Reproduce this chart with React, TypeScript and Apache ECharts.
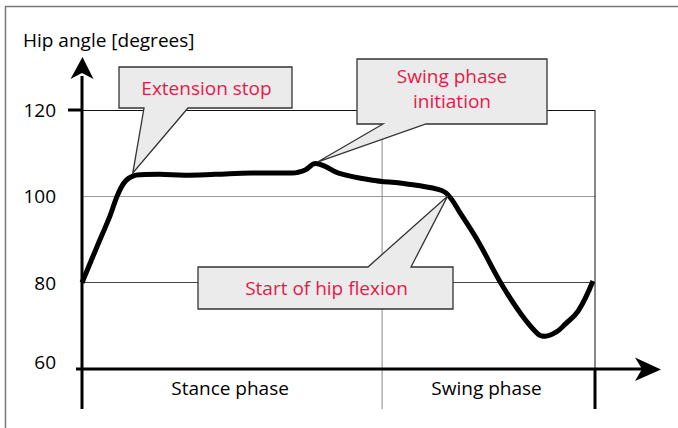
import React, { useEffect, useRef } from "react";
import * as echarts from "echarts";

// Gait cycle (% of cycle) and hip angle (degrees)
const cycleX = [0, 2.7, 5.5, 6.6, 7.6, 8.6, 9.9, 11.5, 15, 20, 26, 33, 41, 43.5, 45.5, 47.3, 50, 56.3, 63, 69.4, 71.3, 73.9, 77.2, 81.7, 85.6, 88.9, 90.3, 92.5, 94.2, 96.7, 99.6];
const hipAngle = [80, 87.7, 95.6, 99.3, 102.0, 103.7, 104.7, 105.0, 105.1, 104.9, 105.1, 105.4, 105.4, 106.1, 107.6, 107.0, 105.4, 103.8, 102.9, 101.6, 100.4, 95.8, 89.6, 79.8, 72.7, 68.1, 67.6, 68.6, 70.4, 73.4, 80.4];
const yTicks = [60, 80, 100, 120];
const phaseBounds = [0, 58.5, 100];
const phaseLabels = ["Stance phase", "Swing phase"];
const calloutTexts = ["Extension stop", "Swing phase\ninitiation", "Start of hip flexion"];
const calloutTipX = [9.9, 46.0, 71.3];
const calloutTipY = [105.4, 108.0, 100.1];

const FONT = "Open Sans";
const FS = 19;
const RED = "#e5194a";

export default function App() {
  const ref = useRef<HTMLDivElement>(null);
  useEffect(() => {
    document.body.style.margin = "0";
    const chart = echarts.init(ref.current!, null, { renderer: "svg" });
    chart.setOption({
      animation: false,
      backgroundColor: "#fff",
      title: {
        text: "Hip angle [degrees]",
        left: 18,
        top: 25,
        textStyle: { fontFamily: FONT, fontSize: FS, fontWeight: "normal", color: "#000" },
      },
      grid: { left: 82, top: 110, right: 83, bottom: 59 },
      xAxis: {
        type: "value",
        min: 0,
        max: 100,
        axisLine: { show: false },
        axisTick: { show: false },
        axisLabel: { show: false },
        splitLine: { show: false },
      },
      yAxis: {
        type: "value",
        min: yTicks[0],
        max: yTicks[yTicks.length - 1],
        interval: 20,
        axisLine: { show: false },
        axisTick: { show: false },
        axisLabel: {
          margin: 26,
          fontFamily: FONT,
          fontSize: FS,
          color: "#000",
          formatter: (v: number) => (v === 60 ? `{low|${v}}` : `${v}`),
          rich: { low: { fontFamily: FONT, fontSize: FS, color: "#000", padding: [0, 0, 14, 0] } },
        },
        splitLine: {
          show: true,
          lineStyle: { color: ["#000", "#444", "#999", "#111"], width: 1 },
        },
      },
      series: [
        {
          type: "line",
          data: cycleX.map((x, i) => [x, hipAngle[i]]),
          smooth: 0.4,
          symbol: "none",
          lineStyle: { color: "#000", width: 5 },
          z: 5,
        },
      ],
    });

    const p = (x: number, y: number) => chart.convertToPixel({ gridIndex: 0 }, [x, y]) as number[];
    const [x0, y60] = p(0, 60);
    const [xEnd, y120] = p(100, 120);
    const [xStance] = p(phaseBounds[1], 60);
    const bottom = y60 + 40;

    const graphics: any[] = [];
    graphics.push({
      type: "rect",
      shape: { x: 5.5, y: 6.5, width: 720, height: 480 },
      style: { fill: "none", stroke: "#777", lineWidth: 1.5 },
      z: 1,
    });
    graphics.push({
      type: "line",
      shape: { x1: xStance, y1: y120, x2: xStance, y2: bottom },
      style: { stroke: "#888", lineWidth: 1 },
      z: 2,
    });
    graphics.push({
      type: "line",
      shape: { x1: xEnd, y1: y120, x2: xEnd, y2: y60 },
      style: { stroke: "#111", lineWidth: 1 },
      z: 2,
    });
    graphics.push({
      type: "line",
      shape: { x1: xEnd, y1: y60, x2: xEnd, y2: bottom },
      style: { stroke: "#000", lineWidth: 3 },
      z: 10,
    });
    graphics.push({
      type: "line",
      shape: { x1: x0, y1: bottom, x2: x0, y2: 76 },
      style: { stroke: "#000", lineWidth: 3 },
      z: 10,
    });
    graphics.push({
      type: "polygon",
      shape: { points: [[x0 + 0.5, 57], [x0 + 11.5, 79], [x0, 73], [x0 - 11.5, 79]] },
      style: { fill: "#000" },
      z: 10,
    });
    graphics.push({
      type: "line",
      shape: { x1: x0 - 14, y1: y120, x2: x0, y2: y120 },
      style: { stroke: "#000", lineWidth: 3 },
      z: 10,
    });
    graphics.push({
      type: "line",
      shape: { x1: x0 - 6, y1: y60, x2: 645, y2: y60 },
      style: { stroke: "#000", lineWidth: 3 },
      z: 10,
    });
    graphics.push({
      type: "polygon",
      shape: { points: [[661, y60 + 0.5], [635, y60 - 11.5], [642, y60], [635, y60 + 12]] },
      style: { fill: "#000" },
      z: 10,
    });
    phaseLabels.forEach((t, i) => {
      const [a] = p(phaseBounds[i], 60);
      const [b] = p(phaseBounds[i + 1], 60);
      graphics.push({
        type: "text",
        x: (a + b) / 2 - 2,
        y: y60 + 19,
        style: { text: t, fontFamily: FONT, fontSize: FS, fill: "#000", align: "center", verticalAlign: "middle" },
        z: 10,
      });
    });
    const boxes = [
      { l: 119, t: 67, r: 292, b: 108, tail: "bottom", b1: 144, b2: 188 },
      { l: 357, t: 59, r: 547, b: 124, tail: "bottom", b1: 383, b2: 426 },
      { l: 198, t: 267, r: 453, b: 309, tail: "top", b1: 368, b2: 411 },
    ];
    boxes.forEach((bx, i) => {
      const tip = p(calloutTipX[i], calloutTipY[i]);
      const pts =
        bx.tail === "bottom"
          ? [[bx.l, bx.t], [bx.r, bx.t], [bx.r, bx.b], [bx.b2, bx.b], tip, [bx.b1, bx.b], [bx.l, bx.b]]
          : [[bx.l, bx.t], [bx.b1, bx.t], tip, [bx.b2, bx.t], [bx.r, bx.t], [bx.r, bx.b], [bx.l, bx.b]];
      graphics.push({
        type: "polygon",
        shape: { points: pts },
        style: { fill: "#ebebeb", stroke: "#333", lineWidth: 1.3 },
        z: 20,
      });
      graphics.push({
        type: "text",
        x: (bx.l + bx.r) / 2 + (i === 1 ? 0 : 1),
        y: (bx.t + bx.b) / 2 + (i === 1 ? -3 : 0),
        style: {
          text: calloutTexts[i],
          fontFamily: FONT,
          fontSize: FS,
          lineHeight: 25,
          fill: RED,
          align: "center",
          verticalAlign: "middle",
        },
        z: 21,
      });
    });
    chart.setOption({ graphic: graphics });
    return () => chart.dispose();
  }, []);
  return <div ref={ref} style={{ width: 678, height: 428 }} />;
}
